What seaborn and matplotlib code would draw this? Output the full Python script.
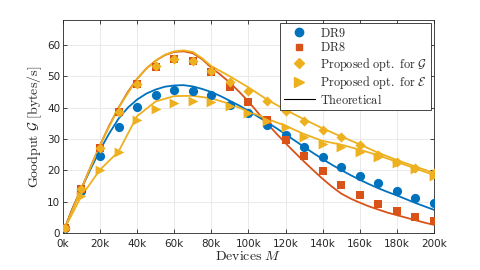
import numpy as np
import pandas as pd
import matplotlib
matplotlib.use("Agg")
import matplotlib.pyplot as plt
from matplotlib.lines import Line2D
import seaborn as sns

# ------------------------------
# Data
# ------------------------------
devices = [1000] + list(range(10000, 200001, 10000))

dr9 = [1.6, 13.5, 24.7, 33.8, 40.2, 44.0, 45.5, 45.3, 44.0, 41.0, 38.2,
       34.5, 31.3, 27.6, 24.4, 21.2, 18.2, 15.9, 13.5, 11.3, 9.5]
dr8 = [1.6, 14.0, 27.0, 38.5, 47.5, 53.0, 55.5, 55.0, 51.5, 46.7, 41.8,
       36.1, 29.8, 24.6, 19.8, 15.3, 12.1, 9.3, 7.0, 5.2, 3.9]
opt_g = [1.6, 14.0, 27.0, 38.5, 47.5, 53.3, 55.7, 55.0, 51.7, 48.3, 45.3,
         42.0, 38.8, 35.9, 32.9, 30.6, 28.1, 24.9, 22.8, 20.9, 19.0]
opt_e = [1.5, 11.8, 20.0, 25.7, 36.0, 39.7, 41.6, 42.2, 41.8, 40.4, 38.2,
         35.9, 33.8, 30.7, 28.3, 27.6, 26.0, 24.4, 22.3, 20.3, 18.1]

# theoretical curves
th_x = [1000] + list(range(5000, 200001, 5000))
th_dr9 = [1.5, 7.5, 14.2, 20.5, 26.5, 31.8, 36.5, 40.0, 42.6, 44.5, 45.8,
          46.7, 47.1, 47.2, 46.8, 46.0, 45.0, 43.7, 42.2, 40.7, 39.0,
          37.2, 35.4, 33.5, 31.5, 29.5, 27.5, 25.5, 23.6, 21.8, 20.1,
          18.5, 17.0, 15.6, 14.3, 13.1, 12.0, 10.8, 9.6, 8.5, 7.4]
th_dr8 = [1.5, 7.6, 14.2, 21.2, 28.0, 34.3, 40.0, 45.0, 49.2, 52.5, 55.0,
          56.8, 57.8, 58.0, 57.4, 55.5, 52.8, 50.5, 48.0, 45.1, 42.0,
          38.5, 35.0, 31.8, 28.7, 25.7, 22.8, 20.0, 17.3, 14.8, 12.6,
          11.0, 9.7, 8.5, 7.5, 6.5, 5.7, 4.9, 4.1, 3.3, 2.6]

th_g_x = [1000, 10000, 20000, 30000, 40000, 45000, 50000, 55000, 60000, 65000,
          70000, 75000, 80000] + list(range(90000, 200001, 10000))
th_g = [1.5, 14.2, 28.0, 40.0, 49.2, 52.5, 55.0, 56.9, 58.0, 58.3,
        57.8, 55.8, 53.3, 50.0, 46.5, 42.6, 39.3, 36.3, 33.4, 30.8,
        28.3, 25.6, 23.3, 21.2, 19.2]
th_e = [1.5, 11.8, 20.2, 26.0, 37.3, 42.0, 43.7, 43.8, 43.0, 41.2, 38.8,
        36.5, 34.2, 31.6, 29.4, 28.2, 26.6, 24.8, 22.7, 20.6, 18.5]

x_ticks = list(range(0, 200001, 20000))
x_labels = [f"{t // 1000}k" for t in x_ticks]

blue, red, yellow = "#0072BD", "#D95319", "#EDB120"

# ------------------------------
# Styling
# ------------------------------
sns.set_style("ticks")
plt.rcParams["font.family"] = ["DejaVu Sans"]
plt.rcParams["mathtext.fontset"] = "cm"

fig = plt.figure(figsize=(4.8, 2.7), dpi=100)
ax = fig.add_axes([0.131, 0.137, 0.773, 0.789])

# theoretical lines
for xs, vals, col in [(th_x, th_dr9, blue), (th_x, th_dr8, red),
                      (th_g_x, th_g, yellow), (devices, th_e, yellow)]:
    sns.lineplot(x=xs, y=vals, color=col, lw=1.3, ax=ax)

# simulated points
sns.scatterplot(x=devices, y=dr9, marker="o", s=44, color=blue, edgecolor=blue, linewidth=0, ax=ax, zorder=3)
sns.scatterplot(x=devices, y=dr8, marker="s", s=30, color=red, edgecolor=red, linewidth=0, ax=ax, zorder=3)
sns.scatterplot(x=devices, y=opt_g, marker="D", s=27, color=yellow, edgecolor=yellow, linewidth=0, ax=ax, zorder=4)
sns.scatterplot(x=devices, y=opt_e, marker=">", s=50, color=yellow, edgecolor=yellow, linewidth=0, ax=ax, zorder=4)

ax.set_xlim(0, 200000)
ax.set_ylim(0, 68)
ax.set_xticks(x_ticks)
ax.set_xticklabels(x_labels)
ax.set_yticks(range(0, 61, 10))
ax.tick_params(direction="in", length=3, width=0.6, labelsize=7.5, colors="#262626",
               top=True, right=True)
ax.tick_params(axis="x", pad=4)
ax.tick_params(axis="y", pad=2)
ax.grid(True, color="#e6e6e6", lw=0.6)
ax.set_axisbelow(True)
for sp in ax.spines.values():
    sp.set_visible(True)
    sp.set_color("#262626")
    sp.set_linewidth(0.6)

ax.set_xlabel(r"$\mathrm{Devices}\ M$", fontsize=10, labelpad=0)
ax.set_ylabel(r"$\mathrm{Goodput}\ \mathcal{G}\ [\mathrm{bytes/s}]$", fontsize=10, labelpad=2)

handles = [
    Line2D([], [], ls="", marker="o", ms=6, color=blue),
    Line2D([], [], ls="", marker="s", ms=5, color=red),
    Line2D([], [], ls="", marker="D", ms=5, color=yellow),
    Line2D([], [], ls="", marker=">", ms=6.5, color=yellow),
    Line2D([], [], color="black", lw=0.8),
]
labels = [r"$\mathrm{DR9}$", r"$\mathrm{DR8}$",
          r"$\mathrm{Proposed\ opt.\ for}\ \mathcal{G}$",
          r"$\mathrm{Proposed\ opt.\ for}\ \mathcal{E}$",
          r"$\mathrm{Theoretical}$"]
leg = ax.legend(handles, labels, loc="upper right", fontsize=8.8, frameon=True, fancybox=False,
                edgecolor="#262626", framealpha=1, borderpad=0.3, labelspacing=0.12,
                handlelength=2.6, handletextpad=0.4, borderaxespad=0.25)
leg.get_frame().set_linewidth(0.6)

fig.savefig("out.png", dpi=100)
